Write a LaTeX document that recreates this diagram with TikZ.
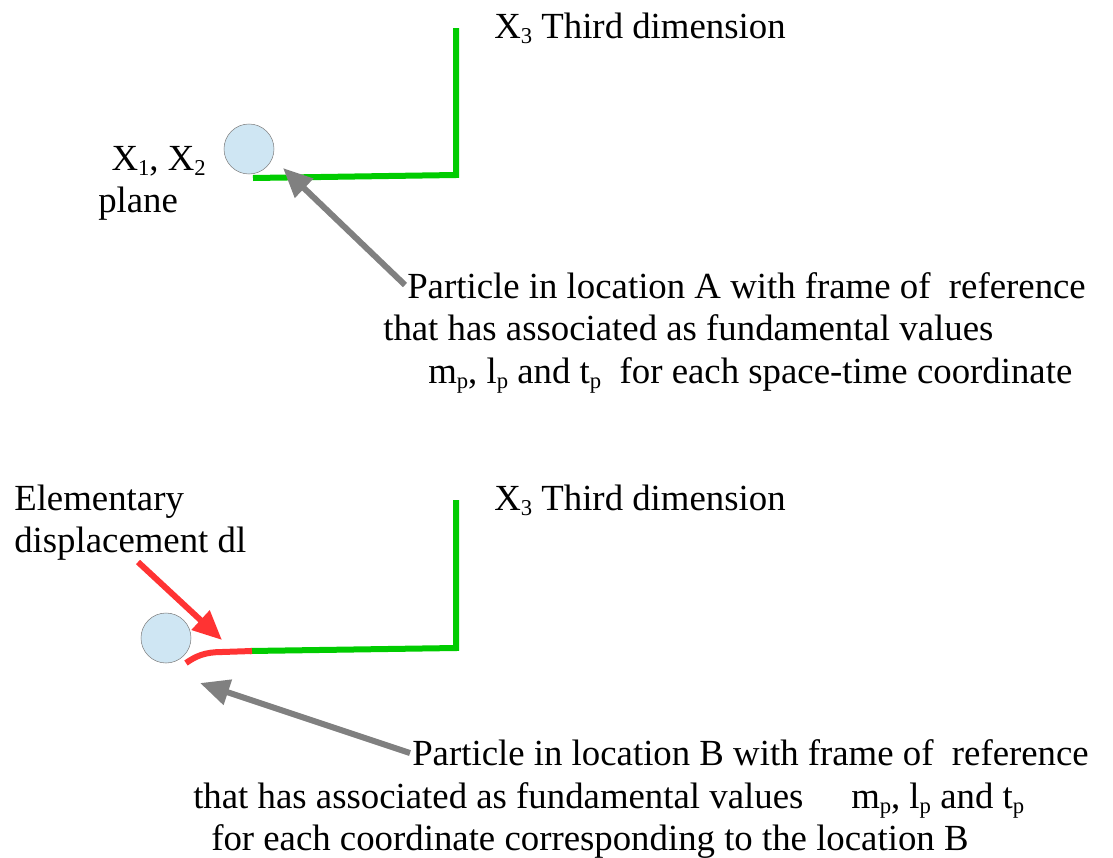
\documentclass[tikz,border=0pt]{standalone}
\usepackage{fontspec}
\setmainfont{Liberation Serif}
\usetikzlibrary{arrows.meta,positioning}
\newcommand{\lowidx}[1]{\raisebox{-0.3ex}{\fontsize{17}{17}\selectfont #1}}

\begin{document}
\begin{tikzpicture}[
    x=0.75pt,y=-0.75pt,
    axis/.style={line width=4.5pt,draw={rgb,255:red,0;green,204;blue,0}},
    particle/.style={circle,draw=gray,fill={rgb,255:red,207;green,230;blue,243},minimum size=37.5pt,inner sep=0pt},
    label/.style={font=\fontsize{27.6}{32}\selectfont,inner sep=0pt,anchor=base west},
    pointer/.style={line width=4.5pt,draw=gray,-{Triangle[length=22pt,width=19pt]}},
    redpointer/.style={line width=4.5pt,draw={rgb,255:red,255;green,51;blue,51},-{Triangle[length=22pt,width=19pt]}}
]
    \useasboundingbox (0,0) rectangle (1113,857);

    % Location A
    \draw[axis] (456,28) -- (456,175) -- (253,178);
    \node[particle] (pA) at (249,149) {};
    \node[label] (x3A) at (494,38) {X\lowidx{3} Third dimension};
    \node[label,anchor=base east] (x12) at (206,170) {X\lowidx{1}, X\lowidx{2}};
    \node[label] (plane) at (98,212) {plane};

    \node[label] (txtA1) at (407,298) {Particle in location A with frame of \ reference};
    \node[label] (txtA2) at (383,340) {that has associated as fundamental values};
    \node[label] (txtA3) at (428,383) {m\lowidx{p}, l\lowidx{p} and t\lowidx{p} \ for each space-time coordinate};
    \coordinate (tailA) at (405,285);
    \coordinate (tipA) at (283,168);
    \draw[pointer] (tailA) -- (tipA);

    % Location B
    \draw[axis] (456,500) -- (456,648) -- (250,651);
    \draw[axis,draw={rgb,255:red,255;green,51;blue,51}] (252,651) -- (222,652) .. controls (205,652) and (196,656) .. (186,663);
    \node[particle] (pB) at (166,638) {};
    \node[label] (x3B) at (494,510) {X\lowidx{3} Third dimension};
    \node[label] (elem) at (14,510) {Elementary};
    \node[label] (displ) at (14,552) {displacement dl};
    \coordinate (dltip) at (222,640);
    \coordinate (dltail) at (138,562);
    \draw[redpointer] (dltail) -- (dltip);

    \node[label] (txtB1) at (412,765) {Particle in location B with frame of \ reference};
    \node[label] (txtB2) at (193,808) {that has associated as fundamental values\hspace{1.3em}m\lowidx{p}, l\lowidx{p} and t\lowidx{p}};
    \node[label] (txtB3) at (211,850) {for each coordinate corresponding to the location B};
    \coordinate (tailB) at (410,753);
    \coordinate (tipB) at (200,683);
    \draw[pointer] (tailB) -- (tipB);
\end{tikzpicture}
\end{document}
